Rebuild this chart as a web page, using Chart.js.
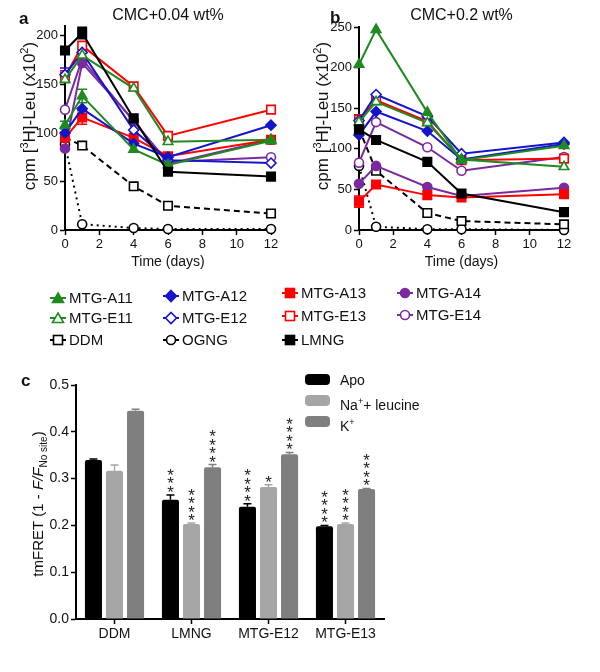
<!DOCTYPE html>
<html>
<head>
<meta charset="utf-8">
<script src="https://cdn.jsdelivr.net/npm/chart.js@4.4.0/dist/chart.umd.min.js"></script>
<style>
  body { margin: 0; background: #fff; font-family: "Liberation Sans", Arial, sans-serif; color: #111; }
  #wrap { position: relative; width: 600px; height: 672px; overflow: hidden; }
  canvas { position: absolute; }
  .lab { position: absolute; font-weight: bold; font-size: 17px; line-height: 17px; }
  .leg { position: absolute; font-size: 15px; line-height: 18px; white-space: nowrap; }
  .leg svg { position: absolute; left: 0; top: 2px; }
  .leg span { position: absolute; left: 19px; top: 0; }
  .cleg { position: absolute; font-size: 14px; line-height: 16px; white-space: nowrap; }
  .cleg i { position: absolute; left: 0; top: 2px; width: 25px; height: 11px; border-radius: 4px; }
  .cleg span { position: absolute; left: 35px; top: 0; }
</style>
</head>
<body>
<div id="wrap">
  <canvas id="chartA" width="300" height="275" style="left:0;top:0"></canvas>
  <canvas id="chartB" width="300" height="275" style="left:300px;top:0"></canvas>
  <canvas id="chartC" width="400" height="300" style="left:0;top:360px"></canvas>
  <div class="lab" style="left:19px;top:10px">a</div>
  <div class="lab" style="left:330px;top:9px">b</div>
  <div class="lab" style="left:21px;top:372px">c</div>
  <div id="legAB"></div>
  <div class="cleg" style="left:305px;top:372px"><i style="background:#000"></i><span>Apo</span></div>
  <div class="cleg" style="left:305px;top:393px"><i style="background:#a6a6a6"></i><span>Na<sup style="font-size:9px">+</sup>+ leucine</span></div>
  <div class="cleg" style="left:305px;top:414px"><i style="background:#7f7f7f"></i><span>K<sup style="font-size:9px">+</sup></span></div>
</div>
<script>
// time points and ticks
const days = [0, 1, 4, 6, 12];
const dayTicks = [0, 2, 4, 6, 8, 10, 12];
const ticksA = [0, 50, 100, 150, 200];
const ticksB = [0, 50, 100, 150, 200, 250];

const names = ['LMNG', 'MTG-A11', 'MTG-E11', 'MTG-A12', 'MTG-E12', 'MTG-A13', 'MTG-E13', 'MTG-A14', 'MTG-E14', 'DDM', 'OGNG'];

// CMC+0.04 wt%
const aLMNG = [185, 203, 115, 60, 55];
const aA11 = [108, 138, 83, 67, 92];
const aE11 = [155, 180, 146, 91, 93];
const aA12 = [100, 125, 89, 75, 108];
const aE12 = [160, 183, 103, 72, 69];
const aA13 = [95, 116, 95, 76, 93];
const aE13 = [158, 190, 148, 97, 124];
const aA14 = [84, 172, 113, 68, 93];
const aE14 = [124, 176, 112, 70, 75];
const aDDM = [95, 87, 45, 25, 17];
const aOGNG = [88, 6, 2, 1, 1];
const aErr = {
  'LMNG': [0, 6, 0, 0, 0],
  'MTG-A11': [4, 7, 0, 0, 0],
  'MTG-A13': [5, 7, 0, 0, 0],
  'MTG-E12': [7, 0, 0, 0, 0],
  'MTG-E13': [6, 0, 0, 0, 0]
};

// CMC+0.2 wt%
const bLMNG = [124, 111, 84, 45, 22];
const bA11 = [204, 247, 145, 86, 104];
const bE11 = [133, 158, 132, 87, 78];
const bA12 = [117, 146, 122, 87, 106];
const bE12 = [135, 167, 140, 94, 108];
const bA13 = [35, 56, 43, 40, 44];
const bE13 = [136, 160, 134, 86, 88];
const bA14 = [57, 79, 53, 42, 52];
const bE14 = [83, 133, 102, 73, 90];
const bDDM = [125, 73, 21, 11, 7];
const bOGNG = [79, 4, 1, 1, 0];
const bErr = {
  'MTG-A13': [7, 0, 0, 0, 0],
  'MTG-E13': [6, 0, 0, 0, 0]
};

// tmFRET
const detergents = ['DDM', 'LMNG', 'MTG-E12', 'MTG-E13'];
const apo = [0.340, 0.255, 0.240, 0.198];
const naLeu = [0.317, 0.203, 0.282, 0.203];
const kPlus = [0.445, 0.324, 0.352, 0.278];
const apoErr = [0.002, 0.010, 0.006, 0.002];
const naErr = [0.012, 0.002, 0.005, 0.002];
const kErr = [0.003, 0.006, 0.004, 0.001];
const apoSig = ['', '***', '****', '****'];
const naSig = ['', '****', '*', '****'];
const kSig = ['', '****', '****', '****'];
const fretTicks = [0, 0.1, 0.2, 0.3, 0.4, 0.5];

const GREEN = '#1f8a1f', BLUE = '#1414cc', RED = '#ff0000', PURPLE = '#7a2a9e', BLACK = '#000';
const look = {
  'LMNG':    { c: BLACK, p: 'rect', r: 6 },
  'MTG-A11': { c: GREEN, p: 'triangle', r: 5.5 },
  'MTG-E11': { c: GREEN, p: 'triangle', r: 5.5, open: true },
  'MTG-A12': { c: BLUE, p: 'rectRot', r: 5 },
  'MTG-E12': { c: BLUE, p: 'rectRot', r: 5, open: true },
  'MTG-A13': { c: RED, p: 'rect', r: 6 },
  'MTG-E13': { c: RED, p: 'rect', r: 6, open: true },
  'MTG-A14': { c: PURPLE, p: 'circle', r: 4.5 },
  'MTG-E14': { c: PURPLE, p: 'circle', r: 4.5, open: true },
  'DDM':     { c: BLACK, p: 'rect', r: 6, open: true, dash: [6, 4] },
  'OGNG':    { c: BLACK, p: 'circle', r: 4.5, open: true, dash: [2, 4] }
};

function makeSets(vals, errs) {
  return names.map((n, i) => {
    const s = look[n];
    return {
      label: n,
      data: days.map((d, j) => ({ x: d, y: vals[i][j] })),
      err: errs[n] || null,
      borderColor: s.c,
      backgroundColor: s.c,
      borderWidth: 2,
      borderDash: s.dash || [],
      pointStyle: s.p,
      pointRadius: s.r,
      pointBorderWidth: 1.6,
      pointBackgroundColor: s.open ? '#fff' : s.c,
      pointBorderColor: s.c,
      clip: false,
      tension: 0
    };
  });
}

// error bars for the time-course panels
const lineErrors = {
  id: 'lineErrors',
  beforeDatasetsDraw(chart) {
    const ctx = chart.ctx, y = chart.scales.y;
    chart.data.datasets.forEach((ds, i) => {
      if (!ds.err) return;
      const meta = chart.getDatasetMeta(i);
      ds.data.forEach((p, j) => {
        const e = ds.err[j];
        if (!e) return;
        const px = meta.data[j].x;
        const top = y.getPixelForValue(p.y + e), bot = y.getPixelForValue(p.y - e);
        ctx.save();
        ctx.strokeStyle = ds.borderColor;
        ctx.lineWidth = 1.5;
        ctx.beginPath();
        ctx.moveTo(px, top); ctx.lineTo(px, bot);
        ctx.moveTo(px - 5, top); ctx.lineTo(px + 5, top);
        ctx.moveTo(px - 5, bot); ctx.lineTo(px + 5, bot);
        ctx.stroke();
        ctx.restore();
      });
    });
  }
};

// rotated y-axis title drawn at a fixed spot, options per chart
const yTitle = {
  id: 'yTitle',
  afterDraw(chart, args, opts) {
    const ctx = chart.ctx;
    ctx.save();
    let w = 0;
    opts.parts.forEach(p => { ctx.font = p[1]; w += ctx.measureText(p[0]).width; });
    ctx.translate(opts.x, opts.y);
    ctx.rotate(-Math.PI / 2);
    ctx.fillStyle = '#111';
    ctx.textBaseline = 'alphabetic';
    let x = -w / 2;
    opts.parts.forEach(p => {
      ctx.font = p[1];
      ctx.fillText(p[0], x, p[2]);
      x += ctx.measureText(p[0]).width;
    });
    ctx.restore();
  }
};

function axisStyle() {
  return {
    border: { color: '#000', width: 2 },
    grid: { drawOnChartArea: false, drawTicks: true, tickLength: 5, tickColor: '#000', tickWidth: 1.5 },
    ticks: { color: '#111', font: { family: 'Liberation Sans', size: 13 }, padding: 2 }
  };
}

function lineChart(id, vals, errs, title, yMax, yTicks, yWidth, padRight, titlePad, titleX) {
  const xs = axisStyle(), ys = axisStyle();
  new Chart(document.getElementById(id), {
    type: 'line',
    data: { datasets: makeSets(vals, errs) },
    options: {
      responsive: false,
      animation: false,
      layout: { padding: { left: 0, right: padRight, top: 0, bottom: 0 } },
      plugins: {
        legend: { display: false },
        tooltip: { enabled: false },
        title: {
          display: true, text: title, fullSize: false, color: '#111',
          font: { family: 'Liberation Sans', size: 16, weight: 'normal' },
          padding: titlePad
        },
        yTitle: {
          x: titleX, y: 116,
          parts: [
            ['cpm [', '17px "Liberation Sans"', 0],
            ['3', '11px "Liberation Sans"', -7],
            ['H]-Leu (x10', '17px "Liberation Sans"', 0],
            ['2', '11px "Liberation Sans"', -7],
            [')', '17px "Liberation Sans"', 0]
          ]
        }
      },
      scales: {
        x: Object.assign(xs, {
          type: 'linear', min: 0, max: 12,
          afterBuildTicks: s => { s.ticks = dayTicks.map(v => ({ value: v })); },
          afterFit: s => { s.height = 45; },
          title: { display: true, text: 'Time (days)', color: '#111', font: { family: 'Liberation Sans', size: 14 }, padding: { top: 2, bottom: 4 } }
        }),
        y: Object.assign(ys, {
          min: 0, max: yMax,
          afterBuildTicks: s => { s.ticks = yTicks.map(v => ({ value: v })); },
          afterFit: s => { s.width = yWidth; }
        })
      }
    },
    plugins: [lineErrors, yTitle]
  });
}

lineChart('chartA', [aLMNG, aA11, aE11, aA12, aE12, aA13, aE13, aA14, aE14, aDDM, aOGNG], aErr,
  'CMC+0.04 wt%', 210, ticksA, 65, 29, { top: 6, bottom: 1 }, 35);
lineChart('chartB', [bLMNG, bA11, bE11, bA12, bE12, bA13, bE13, bA14, bE14, bDDM, bOGNG], bErr,
  'CMC+0.2 wt%', 250, ticksB, 59, 36, { top: 6, bottom: 2 }, 28);

// legend for panels a and b
const legendSlots = [
  ['MTG-A11', 50, 289], ['MTG-E11', 50, 309], ['DDM', 50, 331],
  ['MTG-A12', 163, 287], ['MTG-E12', 163, 309], ['OGNG', 163, 331],
  ['MTG-A13', 282, 284], ['MTG-E13', 282, 307], ['LMNG', 282, 331],
  ['MTG-A14', 397, 284], ['MTG-E14', 397, 306]
];
function symbol(n) {
  const s = look[n], f = s.open ? '#fff' : s.c;
  let m;
  if (s.p === 'triangle') m = `<polygon points="8,2 13.5,11.5 2.5,11.5" fill="${f}" stroke="${s.c}" stroke-width="1.6"/>`;
  else if (s.p === 'rectRot') m = `<polygon points="8,1.5 13.5,7 8,12.5 2.5,7" fill="${f}" stroke="${s.c}" stroke-width="1.6"/>`;
  else if (s.p === 'rect') m = `<rect x="3.5" y="2.5" width="9" height="9" fill="${f}" stroke="${s.c}" stroke-width="1.6"/>`;
  else m = `<circle cx="8" cy="7" r="4.5" fill="${f}" stroke="${s.c}" stroke-width="1.6"/>`;
  return `<svg width="16" height="14"><line x1="0" y1="7" x2="16" y2="7" stroke="${s.c}" stroke-width="2"/>${m}</svg>`;
}
document.getElementById('legAB').innerHTML = legendSlots.map(([n, x, y]) =>
  `<div class="leg" style="left:${x}px;top:${y}px">${symbol(n)}<span>${n}</span></div>`).join('');

// panel c: error bars and significance stars
const barExtras = {
  id: 'barExtras',
  afterDatasetsDraw(chart) {
    const ctx = chart.ctx, y = chart.scales.y;
    chart.data.datasets.forEach((ds, i) => {
      const meta = chart.getDatasetMeta(i);
      ds.data.forEach((v, j) => {
        const bar = meta.data[j];
        const top = y.getPixelForValue(v + ds.err[j]);
        ctx.save();
        ctx.strokeStyle = ds.backgroundColor;
        ctx.lineWidth = 1.5;
        ctx.beginPath();
        ctx.moveTo(bar.x, bar.y); ctx.lineTo(bar.x, top);
        ctx.moveTo(bar.x - 4, top); ctx.lineTo(bar.x + 4, top);
        ctx.stroke();
        ctx.fillStyle = '#222';
        ctx.font = '17px "Liberation Sans"';
        ctx.textAlign = 'center';
        ctx.textBaseline = 'alphabetic';
        const stars = ds.sig[j];
        for (let k = 0; k < stars.length; k++) {
          const cy = top - 7 - k * 8.5;
          ctx.fillText('*', bar.x, cy + 10);
        }
        ctx.restore();
      });
    });
  }
};

const cx = axisStyle(), cy = axisStyle();
cx.grid.offset = false;
cx.ticks.font = { family: 'Liberation Sans', size: 14 };
cy.ticks.font = { family: 'Liberation Sans', size: 14 };
new Chart(document.getElementById('chartC'), {
  type: 'bar',
  data: {
    labels: detergents,
    datasets: [
      { label: 'Apo', data: apo, err: apoErr, sig: apoSig, backgroundColor: '#000' },
      { label: 'Na+ leucine', data: naLeu, err: naErr, sig: naSig, backgroundColor: '#a6a6a6' },
      { label: 'K+', data: kPlus, err: kErr, sig: kSig, backgroundColor: '#7f7f7f' }
    ]
  },
  options: {
    responsive: false,
    animation: false,
    categoryPercentage: 0.82,
    barPercentage: 0.81,
    borderRadius: 2,
    borderSkipped: 'bottom',
    layout: { padding: { left: 0, right: 16, top: 25, bottom: 0 } },
    plugins: {
      legend: { display: false },
      tooltip: { enabled: false },
      yTitle: {
        x: 43, y: 144,
        parts: [
          ['tmFRET (1 - ', '15px "Liberation Sans"', 0],
          ['F/F', 'italic 15px "Liberation Sans"', 0],
          ['No site', '10px "Liberation Sans"', 4],
          [')', '15px "Liberation Sans"', 0]
        ]
      }
    },
    scales: {
      x: Object.assign(cx, {
        afterFit: s => { s.height = 41; }
      }),
      y: Object.assign(cy, {
        min: 0, max: 0.5,
        afterBuildTicks: s => { s.ticks = fretTicks.map(v => ({ value: v })); },
        afterFit: s => { s.width = 76; },
        ticks: Object.assign(cy.ticks, { callback: v => v.toFixed(1) })
      })
    }
  },
  plugins: [barExtras, yTitle]
});
</script>
</body>
</html>
